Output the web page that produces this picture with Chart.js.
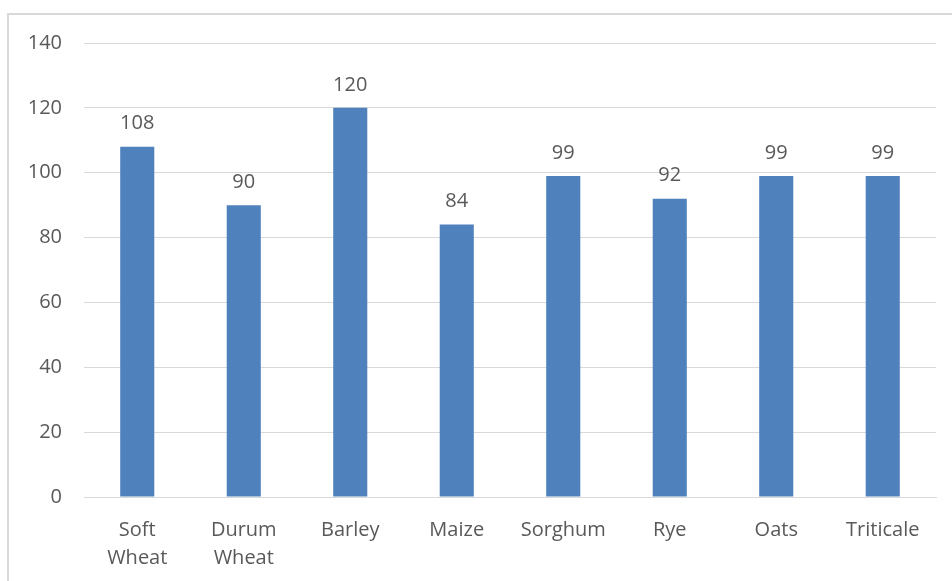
<!DOCTYPE html>
<html>
<head>
<meta charset="utf-8">
<script src="https://cdn.jsdelivr.net/npm/chart.js@4"></script>
<style>
  html, body { margin: 0; padding: 0; background: #fff; overflow: hidden; }
  #frame {
    position: absolute; left: 7px; top: 13px; width: 980px; height: 620px;
    border: 2px solid #d9d9d9; box-sizing: border-box;
  }
  #wrap { position: absolute; left: 0; top: 0; width: 952px; height: 581px; }
</style>
</head>
<body>
<div id="frame"></div>
<div id="wrap"><canvas id="cropChart"></canvas></div>
<script>
const crops = [['Soft', 'Wheat'], ['Durum', 'Wheat'], 'Barley', 'Maize', 'Sorghum', 'Rye', 'Oats', 'Triticale'];
const values = [108, 90, 120, 84, 99, 92, 99, 99];
const yTicks = [0, 20, 40, 60, 80, 100, 120, 140];

const textColor = '#595959';
const gridColor = '#d9d9d9';
const fontFamily = '"Open Sans", sans-serif';

// value above each bar
const barValues = {
    id: 'barValues',
    afterDatasetsDraw(chart) {
        const ctx = chart.ctx;
        const meta = chart.getDatasetMeta(0);
        ctx.save();
        ctx.fillStyle = textColor;
        ctx.font = '20px ' + fontFamily;
        ctx.textAlign = 'center';
        ctx.textBaseline = 'middle';
        meta.data.forEach((bar, i) => {
            ctx.fillText(String(values[i]), bar.x, bar.y - 23);
        });
        ctx.restore();
    }
};

const ctx = document.getElementById('cropChart').getContext('2d');
new Chart(ctx, {
    type: 'bar',
    data: {
        labels: crops,
        datasets: [{
            data: values,
            backgroundColor: '#4f81bd',
            borderWidth: 0,
            barPercentage: 0.64,
            categoryPercentage: 0.5
        }]
    },
    options: {
        responsive: true,
        maintainAspectRatio: false,
        animation: false,
        layout: {
            padding: { top: 43, right: 16, bottom: 0, left: 0 }
        },
        scales: {
            x: {
                grid: { display: false, drawTicks: false },
                border: { display: true, color: gridColor, width: 1 },
                ticks: {
                    color: textColor,
                    font: { family: fontFamily, size: 20, lineHeight: 1.4 },
                    padding: 19,
                    maxRotation: 0,
                    autoSkip: false
                },
                afterFit(scale) { scale.height = 84; }
            },
            y: {
                min: 0,
                max: 140,
                afterBuildTicks(scale) {
                    scale.ticks = yTicks.map(v => ({ value: v }));
                },
                grid: { color: gridColor, lineWidth: 1, drawTicks: false },
                border: { display: false },
                ticks: {
                    color: textColor,
                    font: { family: fontFamily, size: 20 },
                    padding: 22
                },
                afterFit(scale) { scale.width = 84; }
            }
        },
        plugins: {
            legend: { display: false },
            tooltip: { enabled: false }
        }
    },
    plugins: [barValues]
});
</script>
</body>
</html>
